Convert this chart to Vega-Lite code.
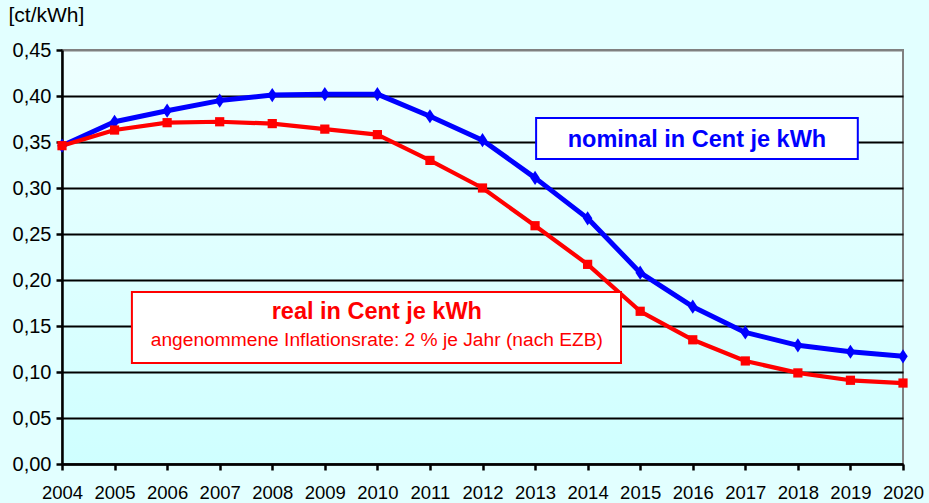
{
  "$schema": "https://vega.github.io/schema/vega-lite/v6.json",
  "autosize": {"type": "none"},
  "width": 841,
  "height": 414,
  "padding": {"left": 62, "top": 50, "right": 26, "bottom": 39},
  "background": "#e2ffff",
  "config": {
    "font": "Liberation Sans",
    "view": {
      "stroke": "#808080",
      "strokeWidth": 2,
      "fill": {
        "gradient": "linear",
        "x1": 0, "y1": 0, "x2": 0, "y2": 1,
        "stops": [
          {"offset": 0, "color": "#eeffff"},
          {"offset": 1, "color": "#cfffff"}
        ]
      }
    }
  },
  "datasets": {
    "series": [
      {"year": 2004, "series": "nominal", "value": 0.346},
      {"year": 2005, "series": "nominal", "value": 0.372},
      {"year": 2006, "series": "nominal", "value": 0.384},
      {"year": 2007, "series": "nominal", "value": 0.395},
      {"year": 2008, "series": "nominal", "value": 0.401},
      {"year": 2009, "series": "nominal", "value": 0.402},
      {"year": 2010, "series": "nominal", "value": 0.402},
      {"year": 2011, "series": "nominal", "value": 0.378},
      {"year": 2012, "series": "nominal", "value": 0.352},
      {"year": 2013, "series": "nominal", "value": 0.311},
      {"year": 2014, "series": "nominal", "value": 0.267},
      {"year": 2015, "series": "nominal", "value": 0.208},
      {"year": 2016, "series": "nominal", "value": 0.171},
      {"year": 2017, "series": "nominal", "value": 0.143},
      {"year": 2018, "series": "nominal", "value": 0.129},
      {"year": 2019, "series": "nominal", "value": 0.122},
      {"year": 2020, "series": "nominal", "value": 0.117},
      {"year": 2004, "series": "real", "value": 0.346},
      {"year": 2005, "series": "real", "value": 0.363},
      {"year": 2006, "series": "real", "value": 0.371},
      {"year": 2007, "series": "real", "value": 0.372},
      {"year": 2008, "series": "real", "value": 0.370},
      {"year": 2009, "series": "real", "value": 0.364},
      {"year": 2010, "series": "real", "value": 0.358},
      {"year": 2011, "series": "real", "value": 0.330},
      {"year": 2012, "series": "real", "value": 0.300},
      {"year": 2013, "series": "real", "value": 0.259},
      {"year": 2014, "series": "real", "value": 0.217},
      {"year": 2015, "series": "real", "value": 0.166},
      {"year": 2016, "series": "real", "value": 0.135},
      {"year": 2017, "series": "real", "value": 0.112},
      {"year": 2018, "series": "real", "value": 0.099},
      {"year": 2019, "series": "real", "value": 0.091},
      {"year": 2020, "series": "real", "value": 0.088}
    ],
    "notes": [
      {"note": "nominal in Cent je kWh"},
      {"note": "real in Cent je kWh"},
      {"note": "angenommene Inflationsrate: 2 % je Jahr (nach EZB)"}
    ]
  },
  "layer": [
    {
      "data": {"name": "series"},
      "mark": {"type": "line", "interpolate": "linear", "strokeJoin": "round"},
      "encoding": {
        "x": {
          "field": "year",
          "type": "quantitative",
          "scale": {"domain": [2004, 2020], "nice": false, "zero": false},
          "axis": {
            "title": null,
            "values": [2004, 2005, 2006, 2007, 2008, 2009, 2010, 2011, 2012, 2013, 2014, 2015, 2016, 2017, 2018, 2019, 2020],
            "format": "d",
            "grid": false,
            "labelFontSize": 18.5,
            "labelColor": "#000000",
            "labelPadding": 13,
            "labelFlush": false,
            "labelOverlap": false,
            "tickColor": "#000000",
            "tickSize": 6,
            "tickWidth": 2.5,
            "domainColor": "#000000",
            "domainWidth": 2.5
          }
        },
        "y": {
          "field": "value",
          "type": "quantitative",
          "scale": {"domain": [0, 0.45], "nice": false},
          "axis": {
            "title": "[ct/kWh]",
            "titleAngle": 0,
            "titleAlign": "left",
            "titleBaseline": "alphabetic",
            "titleX": -54,
            "titleY": -29,
            "titleFontSize": 21,
            "titleFontWeight": "normal",
            "titleColor": "#000000",
            "values": [0, 0.05, 0.1, 0.15, 0.2, 0.25, 0.3, 0.35, 0.4, 0.45],
            "labelExpr": "replace(format(datum.value, '.2f'), '.', ',')",
            "labelFontSize": 20,
            "labelColor": "#000000",
            "labelPadding": 5,
            "tickColor": "#000000",
            "tickSize": 6,
            "tickWidth": 2.5,
            "domainColor": "#000000",
            "domainWidth": 2.5,
            "grid": true,
            "gridColor": {"condition": {"test": "datum.value > 0.44", "value": "#808080"}, "value": "#000000"},
            "gridWidth": 2,
            "gridOpacity": 1
          }
        },
        "color": {
          "field": "series",
          "type": "nominal",
          "scale": {"domain": ["nominal", "real"], "range": ["#0000ff", "#ff0000"]},
          "legend": null
        },
        "strokeWidth": {
          "field": "series",
          "type": "nominal",
          "scale": {"domain": ["nominal", "real"], "range": [5, 4.2]},
          "legend": null
        }
      }
    },
    {
      "data": {"name": "series"},
      "mark": {"type": "point", "filled": true, "opacity": 1},
      "encoding": {
        "x": {"field": "year", "type": "quantitative"},
        "y": {"field": "value", "type": "quantitative"},
        "color": {"field": "series", "type": "nominal", "legend": null},
        "shape": {
          "field": "series",
          "type": "nominal",
          "scale": {"domain": ["nominal", "real"], "range": ["M0,-1.2L0.8,0L0,1.2L-0.8,0Z", "square"]},
          "legend": null
        },
        "size": {
          "field": "series",
          "type": "nominal",
          "scale": {"domain": ["nominal", "real"], "range": [140, 85]},
          "legend": null
        }
      }
    },
    {
      "data": {"name": "notes"},
      "transform": [{"filter": "datum.note === 'nominal in Cent je kWh'"}],
      "mark": {"type": "rect", "fill": "#ffffff", "stroke": "#0000ff", "strokeWidth": 2},
      "encoding": {
        "x": {"datum": 2013.02},
        "x2": {"datum": 2019.14},
        "y": {"datum": 0.376},
        "y2": {"datum": 0.3315}
      }
    },
    {
      "data": {"name": "notes"},
      "transform": [{"filter": "datum.note === 'real in Cent je kWh'"}],
      "mark": {"type": "rect", "fill": "#ffffff", "stroke": "#ff0000", "strokeWidth": 2},
      "encoding": {
        "x": {"datum": 2005.33},
        "x2": {"datum": 2014.635},
        "y": {"datum": 0.187},
        "y2": {"datum": 0.1098}
      }
    },
    {
      "data": {"name": "notes"},
      "transform": [{"filter": "datum.note === 'nominal in Cent je kWh'"}],
      "mark": {"type": "text", "fontSize": 23.5, "fontWeight": "bold", "fill": "#0000ff", "align": "center", "baseline": "alphabetic"},
      "encoding": {
        "text": {"field": "note", "type": "nominal"},
        "x": {"datum": 2016.08},
        "y": {"datum": 0.3446}
      }
    },
    {
      "data": {"name": "notes"},
      "transform": [{"filter": "datum.note === 'real in Cent je kWh'"}],
      "mark": {"type": "text", "fontSize": 23.5, "fontWeight": "bold", "fill": "#ff0000", "align": "center", "baseline": "alphabetic"},
      "encoding": {
        "text": {"field": "note", "type": "nominal"},
        "x": {"datum": 2009.99},
        "y": {"datum": 0.1576}
      }
    },
    {
      "data": {"name": "notes"},
      "transform": [{"filter": "indexof(datum.note, 'Inflationsrate') >= 0"}],
      "mark": {"type": "text", "fontSize": 19.2, "fill": "#ff0000", "align": "center", "baseline": "alphabetic"},
      "encoding": {
        "text": {"field": "note", "type": "nominal"},
        "x": {"datum": 2009.99},
        "y": {"datum": 0.1286}
      }
    }
  ]
}
